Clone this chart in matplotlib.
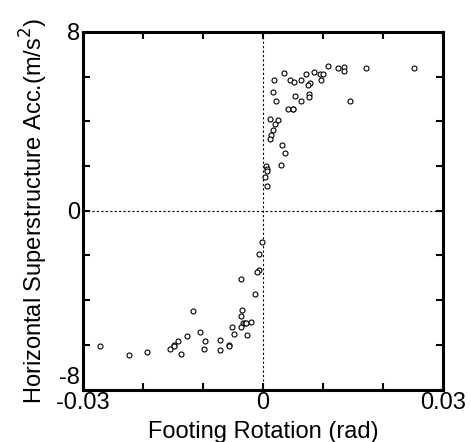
import matplotlib
matplotlib.use("Agg")
import matplotlib.pyplot as plt

# Footing rotation (rad) and horizontal superstructure acceleration (m/s^2)
rot_pos = [0.0109, 0.01245, 0.01356, 0.01344, 0.01717, 0.0252, 0.0035, 0.0072, 0.00845,
           0.00945, 0.0100, 0.00183, 0.0045, 0.0052, 0.00628, 0.0097, 0.0079, 0.0075,
           0.00161, 0.00528, 0.0076, 0.0077, 0.0021, 0.00628, 0.0145, 0.0041, 0.00495,
           0.0050, 0.00112, 0.0025, 0.00205, 0.0016, 0.00139, 0.00117, 0.0032, 0.00367,
           0.00295, 0.00055, 0.0006, 0.0006, 0.0004, 0.0007]
acc_pos = [6.46, 6.41, 6.44, 6.25, 6.38, 6.38, 6.16, 6.14, 6.20,
           6.11, 6.11, 5.84, 5.83, 5.77, 5.86, 5.83, 5.72, 5.62,
           5.31, 5.14, 5.22, 5.10, 4.92, 4.89, 4.92, 4.54, 4.57,
           4.57, 4.11, 4.05, 3.89, 3.63, 3.39, 3.21, 2.93, 2.57,
           2.03, 2.00, 1.87, 1.78, 1.51, 1.09]

rot_neg = [-0.0001, -0.0006, -0.0007, -0.0010, -0.0036, -0.0014, -0.0116, -0.0035,
           -0.0036, -0.0034, -0.0030, -0.0029, -0.0020, -0.0052, -0.0036, -0.0026,
           -0.0048, -0.0105, -0.0127, -0.0141, -0.0096, -0.0072, -0.0148, -0.0149,
           -0.0155, -0.0056, -0.0056, -0.0099, -0.0072, -0.0136, -0.0194, -0.0223,
           -0.0271]
acc_neg = [-1.42, -1.95, -2.63, -2.72, -3.05, -3.72, -4.50, -4.43,
           -4.69, -5.01, -5.03, -5.04, -4.96, -5.19, -5.19, -5.58,
           -5.52, -5.43, -5.61, -5.82, -5.85, -5.79, -6.00, -6.07,
           -6.17, -6.00, -6.07, -6.19, -6.25, -6.43, -6.33, -6.47,
           -6.06]

x_ticks = [-0.03, -0.02, -0.01, 0, 0.01, 0.02, 0.03]
x_ticklabels = ["-0.03", "", "", "0", "", "", "0.03"]
y_ticks = [-8, -6, -4, -2, 0, 2, 4, 6, 8]
y_ticklabels = ["-8", "", "", "", "0", "", "", "", "8"]

plt.rcParams['font.family'] = ['Liberation Sans', 'DejaVu Sans']

fig = plt.figure(figsize=(4.71, 4.42), dpi=100)
ax = fig.add_axes([83/471, 1-389.5/442, 360/471, 357.5/442])

ax.axhline(0, color='black', linestyle=(0, (2, 2)), linewidth=0.8, zorder=1)
ax.axvline(0, color='black', linestyle=(0, (2, 2)), linewidth=0.8, zorder=1)

ax.plot(rot_pos + rot_neg, acc_pos + acc_neg, linestyle='none', marker='o',
        markersize=3.6, markerfacecolor='white', markeredgecolor='black',
        markeredgewidth=0.8, zorder=3)

ax.set_xlim(-0.03, 0.03)
ax.set_ylim(-8, 8)
ax.set_xticks(x_ticks)
ax.set_xticklabels(x_ticklabels)
ax.set_yticks(y_ticks)
ax.set_yticklabels(y_ticklabels)
ax.tick_params(direction='in', length=5, width=1.5, top=True, right=True,
               labelsize=17, pad=2)
for s in ax.spines.values():
    s.set_linewidth(2.2)

# lift the bottom y label above the x tick label, as in the reference
ax.get_yticklabels()[0].set_verticalalignment('bottom')

ax.set_xlabel("Footing Rotation (rad)", fontsize=17, labelpad=5)
ax.set_ylabel("Horizontal Superstructure Acc.(m/s$^2$)", fontsize=17, labelpad=7)

fig.savefig("out.png", dpi=100)
